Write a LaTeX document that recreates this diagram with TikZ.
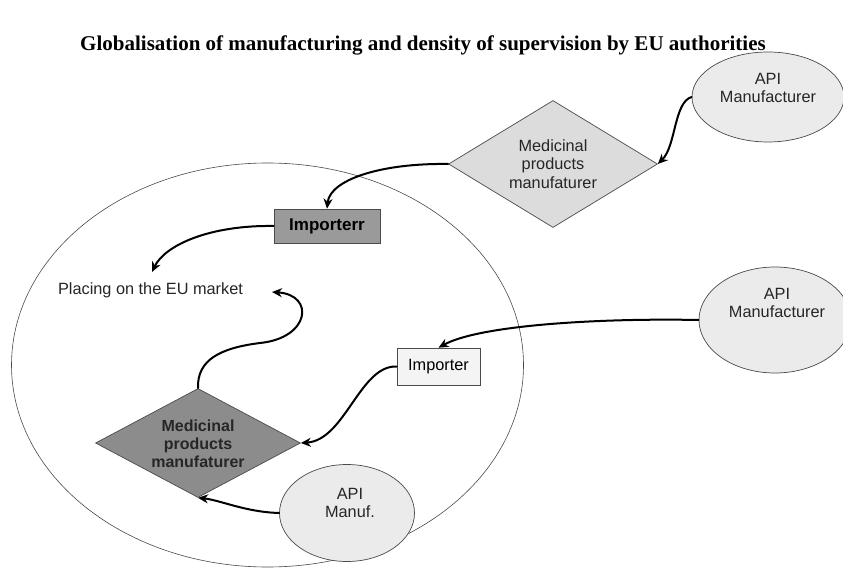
\documentclass[tikz,border=0pt]{standalone}
\usepackage{fontspec}
\setmainfont{Liberation Sans}
\newfontfamily\titlefont{Liberation Serif}
\usetikzlibrary{shapes.geometric,arrows.meta,calc}

\definecolor{paleFill}{HTML}{EBEBEB}
\definecolor{lightDiamond}{HTML}{DCDCDC}
\definecolor{darkBox}{HTML}{9A9A9A}
\definecolor{darkDiamond}{HTML}{8C8C8C}
\definecolor{whiteBox}{HTML}{F4F4F4}
\definecolor{edgeGray}{HTML}{4A4A4A}

\tikzset{
  lbl/.style={font=\fontsize{16.3}{18.5}\selectfont, align=center, inner sep=0pt, text=black!85},
  apiblob/.style={ellipse, draw=edgeGray, line width=0.7pt, fill=paleFill, inner sep=0pt},
  diam/.style={diamond, draw=edgeGray, line width=0.7pt, inner sep=0pt, aspect=1.7},
  boxnode/.style={rectangle, draw=edgeGray, line width=0.7pt, inner sep=0pt},
  flow/.style={line width=2pt, black, -{Stealth[length=10pt,width=9pt]}, line cap=round},
}

\begin{document}
\begin{tikzpicture}[x=1pt, y=-1pt]
\useasboundingbox (0,0) rectangle (843,569);
\fill[white] (0,0) rectangle (843,569);

% title
\node[font=\titlefont\bfseries\fontsize{21}{23}\selectfont, inner sep=0pt] (title) at (423,45)
  {Globalisation of manufacturing and density of supervision by EU authorities};

% EU area
\draw[edgeGray, line width=0.6pt] (267.5,365) ellipse [x radius=256pt, y radius=202pt];

% outside the EU
\node[apiblob, minimum width=152pt, minimum height=90pt] (api1) at (768,97) {};
\node[lbl] (api1t) at ($(api1.center)+(0,-9)$) {API\\Manufacturer};

\node[diam, fill=lightDiamond, minimum width=209pt, minimum height=127pt] (mpm1) at (553,164) {};
\node[lbl] (mpm1t) at (mpm1.center) {Medicinal\\products\\manufaturer};

\node[apiblob, minimum width=152pt, minimum height=106pt] (api2) at (775,320) {};
\node[lbl] (api2t) at ($(api2.center)+(2,-17)$) {API\\Manufacturer};

% inside the EU
\node[boxnode, fill=darkBox, minimum width=106pt, minimum height=34pt] (imp1) at (327,226)
  {\fontsize{17}{18}\selectfont\bfseries Importerr};

\node[lbl] (market) at (150.5,290) {Placing on the EU market};
\coordinate (mktA) at (152,272);
\coordinate (mktB) at (272,292);

\node[boxnode, fill=whiteBox, minimum width=83pt, minimum height=37pt] (imp2) at (438.5,366.5)
  {\fontsize{16.3}{18}\selectfont Importer};

\node[diam, fill=darkDiamond, minimum width=205pt, minimum height=109pt] (mpm2) at (198,443) {};
\node[lbl, font=\fontsize{16}{18}\selectfont\bfseries, text=black!85] (mpm2t) at ($(mpm2.center)+(0,1)$)
  {Medicinal\\products\\manufaturer};

\node[apiblob, minimum width=135pt, minimum height=97pt] (api3) at (347,513) {};
\node[lbl] (api3t) at ($(api3.center)+(3,-10)$) {API\\Manuf.};

% supply chain arrows
\draw[flow] (api1.west) .. controls (674,102) and (676,146) .. (mpm1.east);
\draw[flow] (mpm1.west) .. controls (380,163) and (330,180) .. (imp1.north);
\draw[flow] (imp1.west) .. controls (210,225) and (165,245) .. (mktA);
\draw[flow] (mpm2.north) .. controls (197,360) and (220,348) .. (260,343)
                         .. controls (310,338) and (315,295) .. (mktB);
\draw[flow] (api2.west) .. controls (600,318) and (480,325) .. (imp2.north);
\draw[flow] (imp2.west) .. controls (360,365) and (345,440) .. (mpm2.east);
\draw[flow] (api3.west) .. controls (245,512) and (220,500) .. (mpm2.south);
\end{tikzpicture}
\end{document}
